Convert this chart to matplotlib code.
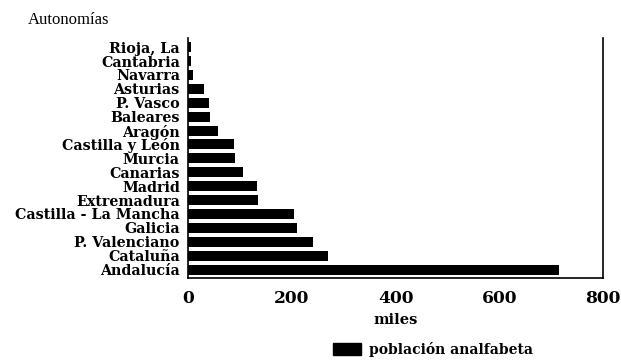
import matplotlib.pyplot as plt
from matplotlib.patches import Patch

# Data (thousands of illiterate people by region)
regions = ['Rioja, La', 'Cantabria', 'Navarra', 'Asturias', 'P. Vasco', 'Baleares',
           'Aragón', 'Castilla y León', 'Murcia', 'Canarias', 'Madrid', 'Extremadura',
           'Castilla - La Mancha', 'Galicia', 'P. Valenciano', 'Cataluña', 'Andalucía']
values = [5, 5, 10, 30, 40, 42, 57, 88, 90, 106, 133, 135, 204, 209, 241, 269, 715]
xticks = [0, 200, 400, 600, 800]

plt.rcParams['font.family'] = ['DejaVu Serif']

fig = plt.figure(figsize=(6.21, 3.6), dpi=100)
ax = fig.add_axes([0.303, 0.228, 0.668, 0.666])

ypos = list(range(len(regions)))[::-1]
ax.barh(ypos, values, height=0.72, color='black')

ax.set_xlim(0, 800)
ax.set_ylim(-0.6, len(regions) - 0.35)
ax.set_xticks(xticks)
ax.set_xticklabels([str(t) for t in xticks], fontsize=12.3, fontweight='bold')
ax.set_yticks(ypos)
ax.set_yticklabels(regions, fontsize=10.3, fontweight='bold')
ax.tick_params(axis='both', length=0)
ax.tick_params(axis='x', pad=9)
ax.tick_params(axis='y', pad=6)
ax.spines['top'].set_visible(False)
for s in ['left', 'right', 'bottom']:
    ax.spines[s].set_linewidth(1.2)

ax.set_xlabel('miles', fontsize=10.5, fontweight='bold', labelpad=4)
fig.text(0.045, 0.945, 'Autonomías', fontsize=12, va='center', ha='left',
         family='Liberation Serif')

fig.legend(handles=[Patch(facecolor='black', edgecolor='black')],
           labels=['población analfabeta'], loc='center',
           bbox_to_anchor=(0.697, 0.03), frameon=False,
           prop={'size': 10, 'weight': 'bold'}, handlelength=2.0,
           handleheight=0.9, handletextpad=0.6)

fig.savefig('out.png', dpi=100)
